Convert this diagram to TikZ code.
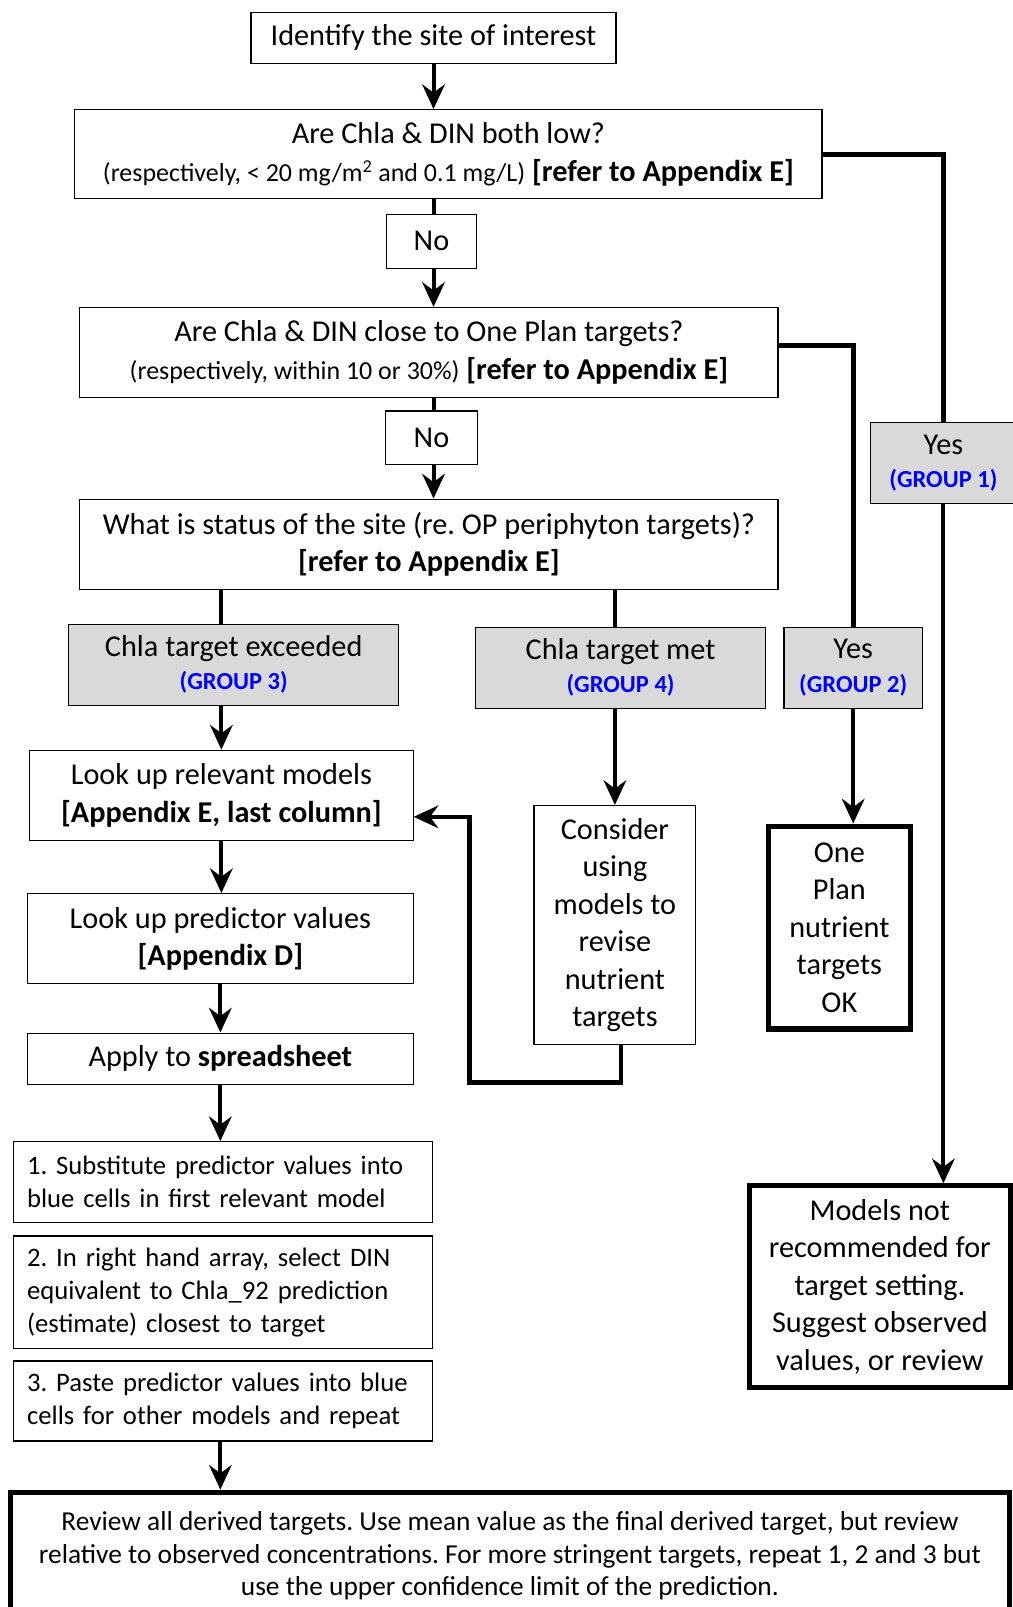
\documentclass[tikz,border=0pt]{standalone}
\usepackage{fontspec}
\setmainfont{Carlito}
\usetikzlibrary{arrows.meta}
\definecolor{boxgray}{RGB}{217,217,217}
\definecolor{grpblue}{RGB}{0,0,255}
\newcommand{\grp}[1]{{\fontsize{17}{20}\selectfont\bfseries\color{grpblue}#1}}
\newcommand{\sml}{\fontsize{18}{22}\selectfont}

\begin{document}
\frenchspacing
\begin{tikzpicture}%
	[x=0.025cm, y=-0.025cm,
	box/.style={draw, line width=0.8pt, align=center, inner sep=0pt, font=\fontsize{21}{26}\selectfont},
	grpbox/.style={box, fill=boxgray},
	bigbox/.style={box, line width=3.5pt},
	stepbox/.style={draw, line width=0.8pt, align=left, text width=9.55cm, inner xsep=0.33cm, inner ysep=0pt, font=\fontsize{18.5}{22.8}\selectfont},
	link/.style={line width=2.8pt},
	flow/.style={link, -{Stealth[length=0.6cm, width=0.55cm, inset=0.2cm]}}]
%
\useasboundingbox (0,0) rectangle (988,1568);
%
%% Question boxes down the middle
%%
\node[box, minimum width=8.9cm, minimum height=1.25cm] (ident) at (423,37) {Identify the site of interest};
\node[box, minimum width=18.225cm, minimum height=2.175cm] (low) at (437.5,150.5) {Are Chla \& DIN both low?\\ {\sml (respectively, < 20 mg/m\textsuperscript{2} and 0.1 mg/L)} \textbf{[refer to Appendix E]}};
\node[box, minimum width=2.2cm, minimum height=1.325cm] (no1) at (421,235.5) {No};
\node[box, minimum width=17.025cm, minimum height=2.2cm] (close) at (418.5,344) {Are Chla \& DIN close to One Plan targets?\\ {\sml (respectively, within 10 or 30\%)} \textbf{[refer to Appendix E]}};
\node[box, minimum width=2.225cm, minimum height=1.3cm] (no2) at (421,427) {No};
\node[box, minimum width=17.025cm, minimum height=2.2cm] (status) at (418.5,531) {What is status of the site (re. OP periphyton targets)?\\ \textbf{[refer to Appendix E]}};
%%
%% Groups
%%
\node[grpbox, minimum width=3.55cm, minimum height=1.975cm] (grp1) at (920.5,451.5) {Yes\\[-3pt] \grp{(GROUP 1)}};
\node[grpbox, minimum width=3.375cm, minimum height=1.975cm] (grp2) at (832.5,651.5) {Yes\\[-3pt] \grp{(GROUP 2)}};
\node[grpbox, minimum width=8.05cm, minimum height=1.975cm] (grp3) at (228,648.5) {Chla target exceeded\\[-3pt] \grp{(GROUP 3)}};
\node[grpbox, minimum width=7.075cm, minimum height=1.975cm] (grp4) at (605.5,651.5) {Chla target met\\[-3pt] \grp{(GROUP 4)}};
%%
%% Outcomes
%%
\node[box, minimum width=9.35cm, minimum height=2.2cm] (look1) at (216,776) {Look up relevant models\\ \textbf{[Appendix E, last column]}};
\node[box, minimum width=3.95cm, minimum height=5.825cm] (consider) at (600,902.5) {Consider\\ using\\ models to\\ revise\\ nutrient\\ targets};
\node[bigbox, minimum width=3.45cm, minimum height=4.95cm] (oneplan) at (819,905) {One\\ Plan\\ nutrient\\ targets\\ OK};
\node[box, minimum width=9.4cm, minimum height=2.2cm] (look2) at (215,916) {Look up predictor values\\ \textbf{[Appendix D]}};
\node[box, minimum width=9.4cm, minimum height=1.25cm] (apply) at (215,1033) {Apply to \textbf{spreadsheet}};
\node[bigbox, minimum width=6.375cm, minimum height=4.925cm] (models) at (858.5,1255.5) {Models not\\ recommended for\\ target setting.\\ Suggest observed\\ values, or review};
%%
%% Spreadsheet steps
%%
\node[stepbox, minimum height=1.975cm] (step1) at (217.5,1153.5) {1. Substitute predictor values into\\ blue cells in first relevant model};
\node[stepbox, minimum height=2.75cm] (step2) at (217.5,1261) {2. In right hand array, select DIN\\ equivalent to Chla\_92 prediction\\ (estimate) closest to target};
\node[stepbox, minimum height=1.95cm] (step3) at (217.5,1367) {3. Paste predictor values into blue\\ cells for other models and repeat};
\node[bigbox, minimum width=24.375cm, minimum height=3.1cm, font=\fontsize{19}{22.8}\selectfont] (final) at (497.5,1518) {Review all derived targets. Use mean value as the final derived target, but review\\ relative to observed concentrations. For more stringent targets, repeat 1, 2 and 3 but\\ use the upper confidence limit of the prediction.};
%%
%% Connectors
%%
\coordinate (loopcorner) at (458,1056);
\draw[flow] (ident.south) -- (ident.south |- low.north);
\draw[link] (ident.south |- low.south) -- (ident.south |- no1.north);
\draw[flow] (ident.south |- no1.south) -- (ident.south |- close.north);
\draw[link] (ident.south |- close.south) -- (ident.south |- no2.north);
\draw[flow] (ident.south |- no2.south) -- (ident.south |- status.north);
\draw[link, line width=3.2pt] (low.east) -| (grp1.north);
\draw[flow] (grp1.south) -- (grp1.south |- models.north);
\draw[link, line width=3.2pt] ([yshift=0.175cm]close.east) -| (grp2.north);
\draw[flow] (grp2.south) -- (grp2.south |- oneplan.north);
\draw[link] (status.south -| look1) -- (grp3.north -| look1);
\draw[link] (status.south -| consider) -- (grp4.north -| consider);
\draw[flow] (grp3.south -| look1) -- (look1.north);
\draw[flow] (grp4.south -| consider) -- (consider.north);
\draw[flow, line width=3.2pt] ([xshift=0.15cm]consider.south) |- (loopcorner) |- ([yshift=-0.525cm]look1.east);
\draw[flow] (look1.south) -- (look1.south |- look2.north);
\draw[flow] (look2.south -| apply) -- (apply.north);
\draw[flow] (apply.south) -- (apply.south |- step1.north);
\draw[flow] (step3.south -| apply) -- (final.north -| apply);
%%
\end{tikzpicture}
\end{document}
